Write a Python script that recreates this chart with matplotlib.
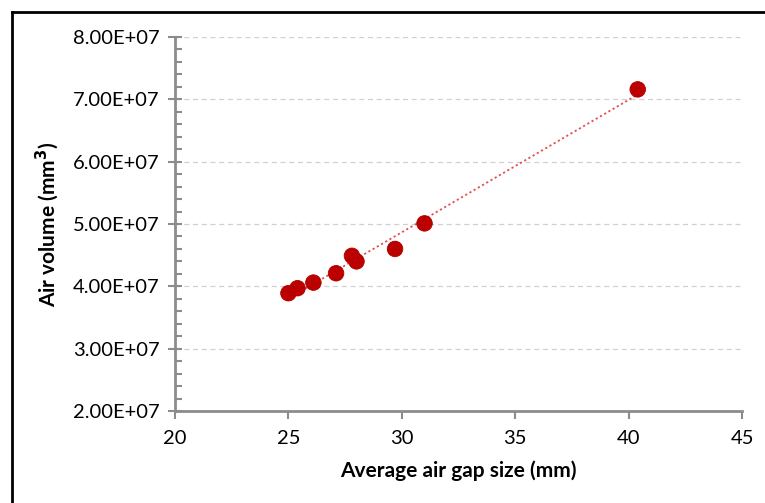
import numpy as np
import matplotlib
matplotlib.use("Agg")
import matplotlib.pyplot as plt
import matplotlib.ticker as mticker
from matplotlib.lines import Line2D

# data
gap_mm = [25.0, 25.4, 26.1, 27.1, 27.8, 28.0, 29.7, 31.0, 40.4]
air_volume = [3.89e7, 3.97e7, 4.06e7, 4.21e7, 4.49e7, 4.40e7, 4.60e7, 5.01e7, 7.16e7]

x_ticks = [20, 25, 30, 35, 40, 45]
y_ticks = [2e7, 3e7, 4e7, 5e7, 6e7, 7e7, 8e7]

plt.rcParams["font.family"] = ["Lato", "DejaVu Sans"]

fig = plt.figure(figsize=(7.65, 5.03), dpi=100)
ax = fig.add_axes([0.2288, 0.1829, 0.7412, 0.7435])

# ----------------------------
# Trendline (linear fit)
# ----------------------------
coef = np.polyfit(gap_mm, air_volume, 1)
xs = np.array([min(gap_mm), max(gap_mm)])
ax.plot(xs, np.polyval(coef, xs), linestyle=(0, (1.2, 1.5)), color="#E05050",
        linewidth=1.3, zorder=2)

# ----------------------------
# Points
# ----------------------------
ax.scatter(gap_mm, air_volume, s=125, color="#C00000", edgecolors="#B00000",
           linewidths=0.6, hatch="....", zorder=3)

# ----------------------------
# Axes styling
# ----------------------------
ax.set_xlim(20, 45)
ax.set_ylim(2e7, 8e7)
ax.set_xticks(x_ticks)
ax.set_yticks(y_ticks)
ax.yaxis.set_major_formatter(mticker.FuncFormatter(
    lambda v, p: "{:.2E}".format(v)))
ax.yaxis.set_minor_locator(mticker.MultipleLocator(2e6))

for side in ["top", "right"]:
    ax.spines[side].set_visible(False)
for side in ["left", "bottom"]:
    ax.spines[side].set_color("#8C8C8C")
    ax.spines[side].set_linewidth(2)

ax.tick_params(axis="y", which="major", direction="inout", length=10,
               width=1.5, color="#8C8C8C", labelsize=14.5, pad=6)
ax.tick_params(axis="y", which="minor", direction="in", length=5,
               width=1.5, color="#8C8C8C")
ax.tick_params(axis="x", which="major", direction="out", length=6,
               width=1.5, color="#8C8C8C", labelsize=14.5, pad=8)

ax.grid(axis="y", linestyle=(0, (4, 3)), color="#D0D0D0", linewidth=0.9)
ax.set_axisbelow(True)

ax.set_xlabel("Average air gap size (mm)", fontsize=15, fontweight="bold",
              labelpad=9)
ax.set_ylabel("Air volume (mm$^\\mathbf{3}$)", fontsize=15,
              fontweight="bold", labelpad=9)

# ----------------------------
# Frame around the figure (left and top visible)
# ----------------------------
fig.add_artist(Line2D([11.5 / 765, 11.5 / 765], [0, 1 - 11.5 / 503],
                      color="black", linewidth=2, transform=fig.transFigure))
fig.add_artist(Line2D([11.5 / 765, 1], [1 - 11.5 / 503, 1 - 11.5 / 503],
                      color="black", linewidth=2, transform=fig.transFigure))

fig.savefig("out.png", dpi=100)
